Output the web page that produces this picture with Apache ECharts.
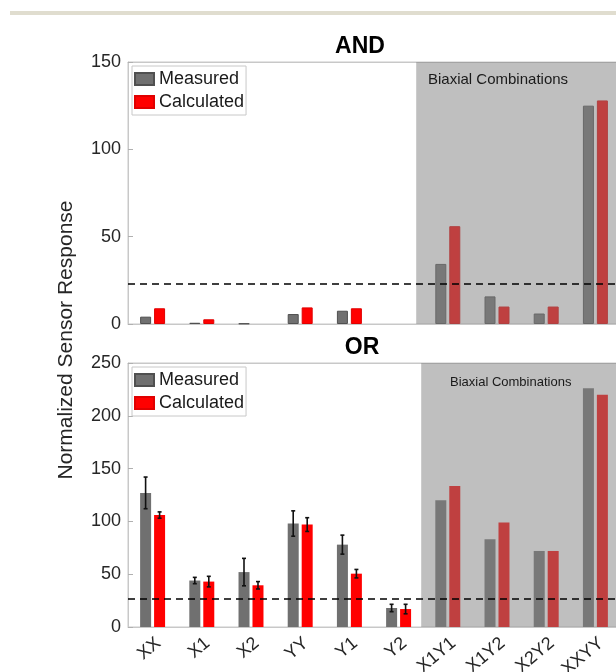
<!DOCTYPE html>
<html>
<head>
<meta charset="utf-8">
<script src="https://cdn.jsdelivr.net/npm/echarts@6/dist/echarts.min.js"></script>
<style>
  html, body { margin: 0; padding: 0; background: #fff; }
  #main { width: 616px; height: 672px; }
</style>
</head>
<body>
<div id="main"></div>
<script>
// categories on the x axis
var categories = ['XX', 'X1', 'X2', 'YY', 'Y1', 'Y2', 'X1Y1', 'X1Y2', 'X2Y2', 'XXYY'];

// AND panel (null = no bar drawn)
var andMeasured = [4.2, 0.7, 0.3, 5.7, 7.6, null, 34.4, 15.8, 6, 125];
var andCalculated = [9, 2.7, null, 9.5, 9, null, 56, 10, 10, 128];
var andThreshold = 23;

// OR panel
var orMeasured = [127, 44, 52, 98, 78, 18, 120, 83, 72, 226];
var orCalculated = [106, 43, 39.5, 97, 50.5, 17, 133.5, 99, 72, 220];
var orMeasuredErr = [15, 3, 13, 12, 9, 3.5];
var orCalculatedErr = [3, 5, 3.5, 6.5, 4, 4.5];
var orThreshold = 27;

// biaxial group = first and last index of the shaded block
var biaxialRange = [6, 9];

var andTicks = [0, 50, 100, 150];
var orTicks = [0, 50, 100, 150, 200, 250];

var FONT = 'Liberation Sans, Arial, sans-serif';
var GRAY = '#707070';
var RED = '#ff0000';

var chart = echarts.init(document.getElementById('main'));

// shaded block (semi transparent, drawn over the bars like the original)
function shadeRender(extraLeft) {
  return function (params, api) {
    var band = api.size([1, 0])[0];
    var x0 = api.coord([api.value(0), 0])[0] - band / 2 - extraLeft;
    var x1 = api.coord([api.value(1), 0])[0] + band / 2;
    var cs = params.coordSys;
    return {
      type: 'rect',
      shape: { x: x0, y: cs.y, width: x1 - x0, height: cs.height },
      style: { fill: 'rgba(128,128,128,0.5)' }
    };
  };
}

// error bars, offset = which bar of the pair (-1 left, +1 right)
function errRender(offset) {
  return function (params, api) {
    var i = api.value(0);
    var v = api.value(1);
    var e = api.value(2);
    var c = api.coord([i, v]);
    var x = c[0] + offset * 7;
    var top = api.coord([i, v + e])[1];
    var bot = api.coord([i, v - e])[1];
    var st = { stroke: '#111', lineWidth: 1.6 };
    return {
      type: 'group',
      children: [
        { type: 'line', shape: { x1: x, y1: top, x2: x, y2: bot }, style: st },
        { type: 'line', shape: { x1: x - 2, y1: top, x2: x + 2, y2: top }, style: st },
        { type: 'line', shape: { x1: x - 2, y1: bot, x2: x + 2, y2: bot }, style: st }
      ]
    };
  };
}

function errData(vals, errs) {
  var out = [];
  for (var i = 0; i < errs.length; i++) {
    out.push([i, vals[i], errs[i]]);
  }
  return out;
}

function xAxes(gridIndex, showLabels) {
  return [{
    type: 'category', gridIndex: gridIndex, data: categories, position: 'bottom',
    axisLine: { lineStyle: { color: '#c8c8c8' } },
    axisTick: { inside: true, alignWithLabel: true, length: 5, lineStyle: { color: '#b0b0b0' } },
    axisLabel: showLabels ? {
      rotate: 40, fontSize: 18, color: '#262626', fontFamily: FONT, margin: 7, interval: 0,
      align: 'right', verticalAlign: 'top'
    } : { show: false }
  }, {
    type: 'category', gridIndex: gridIndex, data: categories, position: 'top',
    axisLine: { lineStyle: { color: '#c8c8c8' } },
    axisTick: { inside: true, alignWithLabel: true, length: 5, lineStyle: { color: '#b0b0b0' } },
    axisLabel: { show: false }
  }];
}

function yAxis(gridIndex, ticks) {
  return {
    type: 'value', gridIndex: gridIndex,
    min: ticks[0], max: ticks[ticks.length - 1], interval: ticks[1] - ticks[0],
    axisLine: { show: true, lineStyle: { color: '#c8c8c8' } },
    axisTick: { show: true, inside: true, length: 5, lineStyle: { color: '#b0b0b0' } },
    splitLine: { show: false },
    axisLabel: { fontSize: 18, color: '#262626', fontFamily: FONT, margin: 7 }
  };
}

function legend(top) {
  return {
    orient: 'vertical', left: 132, top: top,
    data: ['Measured', 'Calculated'],
    icon: 'rect', itemWidth: 19, itemHeight: 12, itemGap: 3,
    padding: [3, 2, 3, 2],
    borderColor: '#c8c8c8', borderWidth: 1, backgroundColor: '#fff',
    selectedMode: false,
    textStyle: { fontSize: 18, color: '#1a1a1a', fontFamily: FONT, lineHeight: 20 }
  };
}

function threshold(v) {
  return {
    silent: true, symbol: 'none', label: { show: false },
    lineStyle: { color: '#000', type: [7, 5], width: 1.6 },
    data: [{ yAxis: v }]
  };
}

var option = {
  backgroundColor: '#fff',
  animation: false,
  grid: [
    { left: 128, top: 62, width: 492, height: 262, show: true, borderColor: '#c8c8c8', borderWidth: 1, outerBoundsMode: 'none', containLabel: false },
    { left: 128, top: 363, width: 492, height: 264, show: true, borderColor: '#c8c8c8', borderWidth: 1, outerBoundsMode: 'none', containLabel: false }
  ],
  xAxis: xAxes(0, false).concat(xAxes(1, true)),
  yAxis: [yAxis(0, andTicks), yAxis(1, orTicks)],
  legend: [legend(66), legend(367)],
  graphic: [
    { type: 'rect', left: 10, top: 11, shape: { width: 606, height: 4 }, style: { fill: '#e0ddcf' } },
    { type: 'text', x: 360, y: 47, style: { text: 'AND', font: 'bold 23px ' + FONT, fill: '#000', textAlign: 'center', textVerticalAlign: 'middle' } },
    { type: 'text', x: 362, y: 348, style: { text: 'OR', font: 'bold 23px ' + FONT, fill: '#000', textAlign: 'center', textVerticalAlign: 'middle' } },
    { type: 'text', x: 66, y: 340, rotation: Math.PI / 2, style: { text: 'Normalized Sensor Response', font: '21px ' + FONT, fill: '#262626', textAlign: 'center', textVerticalAlign: 'middle' }, z: 10 },
    { type: 'text', x: 428, y: 80, style: { text: 'Biaxial Combinations', font: '15px ' + FONT, fill: '#1a1a1a', textVerticalAlign: 'middle' }, z: 10 },
    { type: 'text', x: 450, y: 382, style: { text: 'Biaxial Combinations', font: '13px ' + FONT, fill: '#1a1a1a', textVerticalAlign: 'middle' }, z: 10 }
  ],
  series: [
    {
      name: 'Measured', type: 'bar', xAxisIndex: 0, yAxisIndex: 0, data: andMeasured,
      barWidth: 11, barGap: '27%',
      itemStyle: { color: GRAY, borderColor: '#505050', borderWidth: 1 }
    },
    {
      name: 'Calculated', type: 'bar', xAxisIndex: 0, yAxisIndex: 0, data: andCalculated,
      barWidth: 11, barGap: '27%',
      itemStyle: { color: RED, borderColor: '#e00000', borderWidth: 1 }
    },
    {
      type: 'custom', xAxisIndex: 0, yAxisIndex: 0, z: 3, silent: true,
      renderItem: shadeRender(7), data: [biaxialRange],
      markLine: threshold(andThreshold)
    },
    {
      name: 'Measured', type: 'bar', xAxisIndex: 2, yAxisIndex: 1, data: orMeasured,
      barWidth: 11, barGap: '27%',
      itemStyle: { color: GRAY }
    },
    {
      name: 'Calculated', type: 'bar', xAxisIndex: 2, yAxisIndex: 1, data: orCalculated,
      barWidth: 11, barGap: '27%',
      itemStyle: { color: RED }
    },
    {
      type: 'custom', xAxisIndex: 2, yAxisIndex: 1, z: 4, silent: true,
      renderItem: errRender(-1), data: errData(orMeasured, orMeasuredErr)
    },
    {
      type: 'custom', xAxisIndex: 2, yAxisIndex: 1, z: 4, silent: true,
      renderItem: errRender(1), data: errData(orCalculated, orCalculatedErr)
    },
    {
      type: 'custom', xAxisIndex: 2, yAxisIndex: 1, z: 3, silent: true,
      renderItem: shadeRender(2), data: [biaxialRange],
      markLine: threshold(orThreshold)
    }
  ]
};

chart.setOption(option);
</script>
</body>
</html>
